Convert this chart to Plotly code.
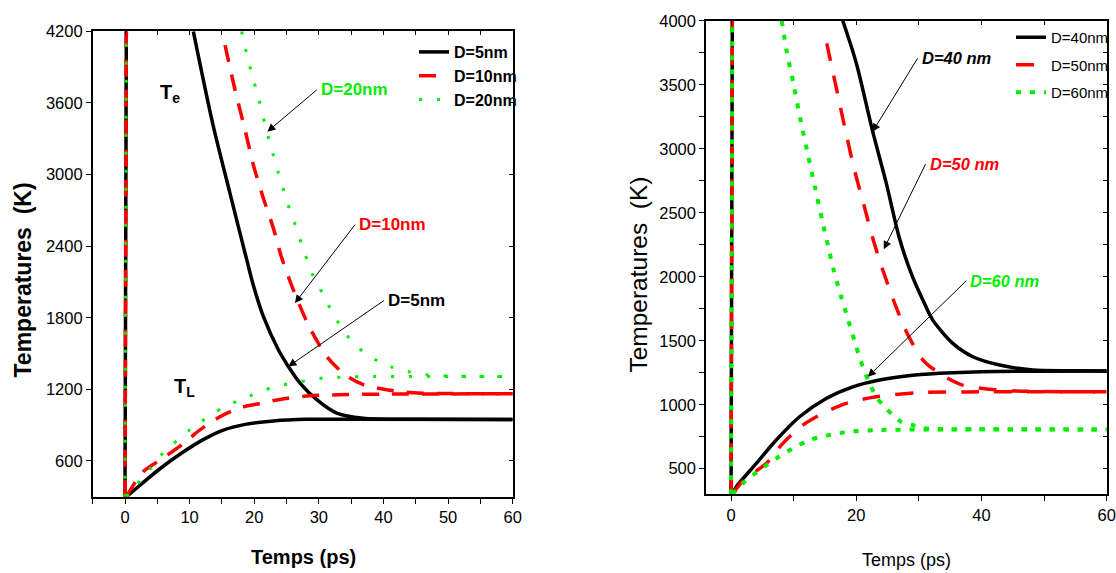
import plotly.graph_objects as go

# ---------------- data: left panel (D = 5, 10, 20 nm) ----------------
spike_t = [0.0, 0.2]
spike_left = [300, 4200]
spike_right = [300, 4000]

te5_t = [10.57, 13.62, 16.18, 19.04, 19.77, 21.41, 23.73, 25.28, 27.09, 29.67, 32.77, 36.84, 45, 60]
te5 = [4200, 3416, 2857, 2243, 2090, 1811, 1532, 1392, 1253, 1114, 1002, 959, 950, 948]
tl5_t = [0.2, 2.5, 5.4, 9.0, 12.1, 15.0, 18.8, 23.0, 28.1, 35, 60]
tl5 = [300, 405, 535, 675, 779, 855, 909, 936, 949, 950, 948]

te10_t = [15.48, 17.03, 18.58, 19.86, 21.41, 22.96, 24.26, 26.05, 28.37, 31.22, 34.06, 36.89, 40.5, 44.6, 50, 60]
te10 = [4085, 3709, 3373, 3081, 2802, 2551, 2300, 2034, 1741, 1476, 1322, 1239, 1197, 1172, 1165, 1163]
tl10_t = [0.2, 2.8, 5.9, 9.0, 11.6, 14.7, 17.8, 20.9, 24.0, 28.1, 33, 40, 60]
tl10 = [300, 510, 625, 745, 860, 970, 1046, 1082, 1116, 1144, 1155, 1160, 1163]

te20_t = [18.06, 18.84, 19.77, 20.74, 21.93, 22.86, 23.73, 24.61, 25.54, 26.58, 27.51, 29.15, 30.6, 32.0,
          33.54, 35.25, 37.15, 39.21, 41.02, 43.08, 46.7, 52, 60]
te20 = [4200, 4007, 3815, 3625, 3365, 3179, 3016, 2857, 2696, 2545, 2388, 2146, 2001, 1853,
        1714, 1593, 1504, 1434, 1392, 1358, 1322, 1310, 1308]
tl20_t = [0.2, 1.8, 3.6, 5.15, 6.97, 8.25, 10.06, 11.87, 13.67, 15.2, 16.76, 19.09, 21.16, 23.22, 26.32,
          28.64, 30.7, 35, 60]
tl20 = [300, 402, 513, 625, 722, 779, 863, 932, 1002, 1045, 1086, 1141, 1183, 1225, 1253,
        1281, 1295, 1305, 1308]

# ---------------- data: right panel (D = 40, 50, 60 nm) ----------------
te40_t = [17.85, 20.0, 22.6, 24.8, 26.9, 28.9, 30.9, 32.23, 35.42, 38.61, 42.88, 48.2, 54, 60]
te40 = [4000, 3670, 3140, 2730, 2300, 2010, 1790, 1661, 1479, 1375, 1310, 1271, 1265, 1263]
tl40_t = [0.2, 0.83, 4.03, 7.22, 10.94, 15.2, 19.45, 23.71, 27.97, 33.3, 40, 60]
tl40 = [300, 358, 541, 724, 906, 1049, 1140, 1193, 1224, 1245, 1258, 1263]

te50_t = [15.3, 15.57, 17.06, 18.44, 19.8, 21.27, 22.72, 24.35, 26.24, 28.35, 30.9, 34.22, 37.0, 40.2, 45, 60]
te50 = [3824, 3758, 3420, 3105, 2818, 2552, 2287, 2037, 1779, 1536, 1336, 1218, 1153, 1127, 1108, 1101]
tl50_t = [0.2, 2.0, 5.62, 8.27, 11.47, 14.66, 18.4, 23.19, 29.58, 38, 60]
tl50 = [300, 411, 541, 698, 841, 932, 1010, 1062, 1093, 1100, 1101]

te60_t = [8.1, 8.9, 10.0, 11.2, 12.3, 13.4, 14.6, 15.5, 16.4, 17.6, 18.4, 19.2, 20.0, 21.05, 22.12,
          23.19, 24.5, 25.84, 27.17, 29.03, 31.17, 40, 60]
te60 = [4000, 3760, 3500, 3200, 2950, 2700, 2430, 2240, 2050, 1843, 1714, 1583, 1453, 1296, 1167,
        1062, 984, 919, 867, 841, 815, 808, 807]
tl60_t = [0.2, 1.88, 4.55, 7.22, 9.88, 12.54, 15.73, 18.92, 23.19, 35, 60]
tl60 = [300, 385, 489, 580, 659, 724, 763, 789, 802, 807, 807]

labels_left = ["D=5nm", "D=10nm", "D=20nm"]
labels_right = ["D=40nm", "D=50nm", "D=60nm"]

FONT = "Liberation Sans, Arial, sans-serif"
BLACK, RED, GREEN = "#000000", "#ff0000", "#00ee00"

W, H = 1116, 573


def join(*parts):
    xs, ys = [], []
    for i, (a, b) in enumerate(parts):
        if i:
            xs.append(None)
            ys.append(None)
        xs += list(a)
        ys += list(b)
    return xs, ys


fig = go.Figure()

left_series = [
    (labels_left[0], (spike_t, spike_left), (te5_t, te5), (tl5_t, tl5), dict(color=BLACK, width=3.5, dash="solid")),
    (labels_left[1], (spike_t, spike_left), (te10_t, te10), (tl10_t, tl10), dict(color=RED, width=3.5, dash="17px,13px")),
    (labels_left[2], (spike_t, spike_left), (te20_t, te20), (tl20_t, tl20), dict(color=GREEN, width=3, dash="3px,15px")),
]
right_series = [
    (labels_right[0], (spike_t, spike_right), (te40_t, te40), (tl40_t, tl40), dict(color=BLACK, width=3.5, dash="solid")),
    (labels_right[1], (spike_t, spike_right), (te50_t, te50), (tl50_t, tl50), dict(color=RED, width=3.5, dash="18px,15px")),
    (labels_right[2], (spike_t, spike_right), (te60_t, te60), (tl60_t, tl60), dict(color=GREEN, width=4, dash="5px,9px")),
]

for i, (name, sp, te, tl, line) in enumerate(left_series):
    x, y = join(sp, te, tl)
    fig.add_trace(go.Scatter(x=x, y=y, mode="lines", name=name, line=dict(shape="spline", smoothing=0.8, **line),
                             xaxis="x", yaxis="y", legend="legend", legendrank=i + 1,
                             legendgroup="L%d" % i))
for i, (name, sp, te, tl, line) in enumerate(right_series):
    x, y = join(sp, te, tl)
    fig.add_trace(go.Scatter(x=x, y=y, mode="lines", name=name, line=dict(shape="spline", smoothing=0.8, **line),
                             xaxis="x2", yaxis="y2", legend="legend2", legendrank=i + 1,
                             legendgroup="R%d" % i))

# empty traces to activate the mirrored-tick overlay axes
fig.add_trace(go.Scatter(x=[None], y=[None], xaxis="x3", yaxis="y3", showlegend=False, hoverinfo="skip"))
fig.add_trace(go.Scatter(x=[None], y=[None], xaxis="x4", yaxis="y4", showlegend=False, hoverinfo="skip"))

xl = [92.7 / W, 512.7 / W]
yl = [1 - 496.8 / H, 1 - 31.3 / H]
xr = [706 / W, 1106.7 / W]
yr = [1 - 494.3 / H, 1 - 20.8 / H]

tickfont = dict(family=FONT, size=16.5, color="black")
common = dict(showgrid=False, zeroline=False, showline=True, linecolor="black", linewidth=1.5,
              ticks="outside", ticklen=5, tickwidth=1.2, tickcolor="black", automargin=False,
              tickfont=tickfont, mirror=True)
minor_common = dict(ticks="outside", ticklen=5, tickcolor="black", tickwidth=1.2)
overlay = dict(ticks="inside", ticklen=4, tickcolor="black", showticklabels=False, showgrid=False,
               zeroline=False, showline=False, automargin=False)

fig.update_layout(
    width=W, height=H, autosize=False,
    margin=dict(l=0, r=0, t=0, b=0),
    paper_bgcolor="white", plot_bgcolor="white",
    xaxis=dict(domain=xl, range=[-5, 60], anchor="y", tick0=0, dtick=10, minor=dict(dtick=5, **minor_common), **common),
    yaxis=dict(domain=yl, range=[300, 4200], anchor="x", tick0=0, dtick=600, **common),
    xaxis2=dict(domain=xr, range=[-4, 60], anchor="y2", tick0=0, dtick=20, minor=dict(dtick=10, **minor_common), **common),
    yaxis2=dict(domain=yr, range=[300, 4000], anchor="x2", tick0=0, dtick=500, minor=dict(dtick=250, **minor_common), **common),
    xaxis3=dict(overlaying="x", side="top", anchor="y3", range=[-5, 60], tick0=0, dtick=5, **overlay),
    yaxis3=dict(overlaying="y", side="right", anchor="x3", range=[300, 4200], tick0=0, dtick=600, **overlay),
    xaxis4=dict(overlaying="x2", side="top", anchor="y4", range=[-4, 60], tick0=0, dtick=10, **overlay),
    yaxis4=dict(overlaying="y2", side="right", anchor="x4", range=[300, 4000], tick0=0, dtick=250, **overlay),
    legend=dict(x=414 / W, y=1 - 35 / H, xanchor="left", yanchor="top", bgcolor="rgba(0,0,0,0)",
                font=dict(family=FONT, size=16, color="black", weight="bold"), tracegroupgap=0,
                traceorder="grouped"),
    legend2=dict(x=1011 / W, y=1 - 21 / H, xanchor="left", yanchor="top", bgcolor="rgba(0,0,0,0)",
                 font=dict(family=FONT, size=15, color="black"), tracegroupgap=5,
                 traceorder="grouped"),
    showlegend=True,
)

NB = "\u00a0"
ann = []
# axis titles
ann.append(dict(text="Temperatures" + NB + NB + "(K)", x=22 / W, y=1 - 280.5 / H, xref="paper", yref="paper",
                xanchor="center", yanchor="middle", textangle=-90, showarrow=False,
                font=dict(family=FONT, size=23, color="black", weight="bold")))
ann.append(dict(text="Temps (ps)", x=303 / W, y=1 - 557 / H, xref="paper", yref="paper",
                xanchor="center", yanchor="middle", showarrow=False,
                font=dict(family=FONT, size=20, color="black", weight="bold")))
ann.append(dict(text="Temperatures" + NB + NB + "(K)", x=639 / W, y=1 - 274.6 / H, xref="paper", yref="paper",
                xanchor="center", yanchor="middle", textangle=-90, showarrow=False,
                font=dict(family=FONT, size=24.5, color="black")))
ann.append(dict(text="Temps (ps)", x=906.7 / W, y=1 - 560 / H, xref="paper", yref="paper",
                xanchor="center", yanchor="middle", showarrow=False,
                font=dict(family=FONT, size=18, color="black")))

# Te / TL labels
ann.append(dict(text="T<sub>e</sub>", x=6.97, y=3683, xref="x", yref="y", showarrow=False,
                xanchor="center", yanchor="middle",
                font=dict(family=FONT, size=20, color="black", weight="bold")))
ann.append(dict(text="T<sub>L</sub>", x=9.13, y=1214, xref="x", yref="y", showarrow=False,
                xanchor="center", yanchor="middle",
                font=dict(family=FONT, size=20, color="black", weight="bold")))


def callout(text, head_x, head_y, tail_x, tail_y, color, xref, yref, italic=False, size=17):
    # text box is anchored at the arrow tail; the arrow runs from the tail to the head
    return dict(text=text, x=head_x, y=head_y, ax=tail_x, ay=tail_y, xref=xref, yref=yref,
                axref=xref, ayref=yref, xanchor="left", yanchor="middle", borderpad=3,
                showarrow=True, arrowhead=2, arrowsize=1.6, arrowwidth=1, arrowcolor="black", standoff=0,
                font=dict(family=FONT, size=size, color=color, weight="bold",
                          style="italic" if italic else "normal"))


# left panel callouts
ann.append(callout("D=20nm", 22.03, 3359, 29.67, 3709, GREEN, "x", "y"))
ann.append(callout("D=10nm", 26.3, 1923, 35.6, 2580, RED, "x", "y"))
ann.append(callout("D=5nm", 25.28, 1392, 40.09, 1945, BLACK, "x", "y"))

# right panel callouts
ann.append(callout("D=40 nm", 22.6, 3133, 29.8, 3707, BLACK, "x2", "y2", italic=True, size=16.5))
ann.append(callout("D=50 nm", 24.4, 2215, 31.06, 2880, RED, "x2", "y2", italic=True, size=16.5))
ann.append(callout("D=60 nm", 21.85, 1218, 37.56, 1968, GREEN, "x2", "y2", italic=True, size=16.5))

fig.update_layout(annotations=ann)

fig.write_html("out.html")
